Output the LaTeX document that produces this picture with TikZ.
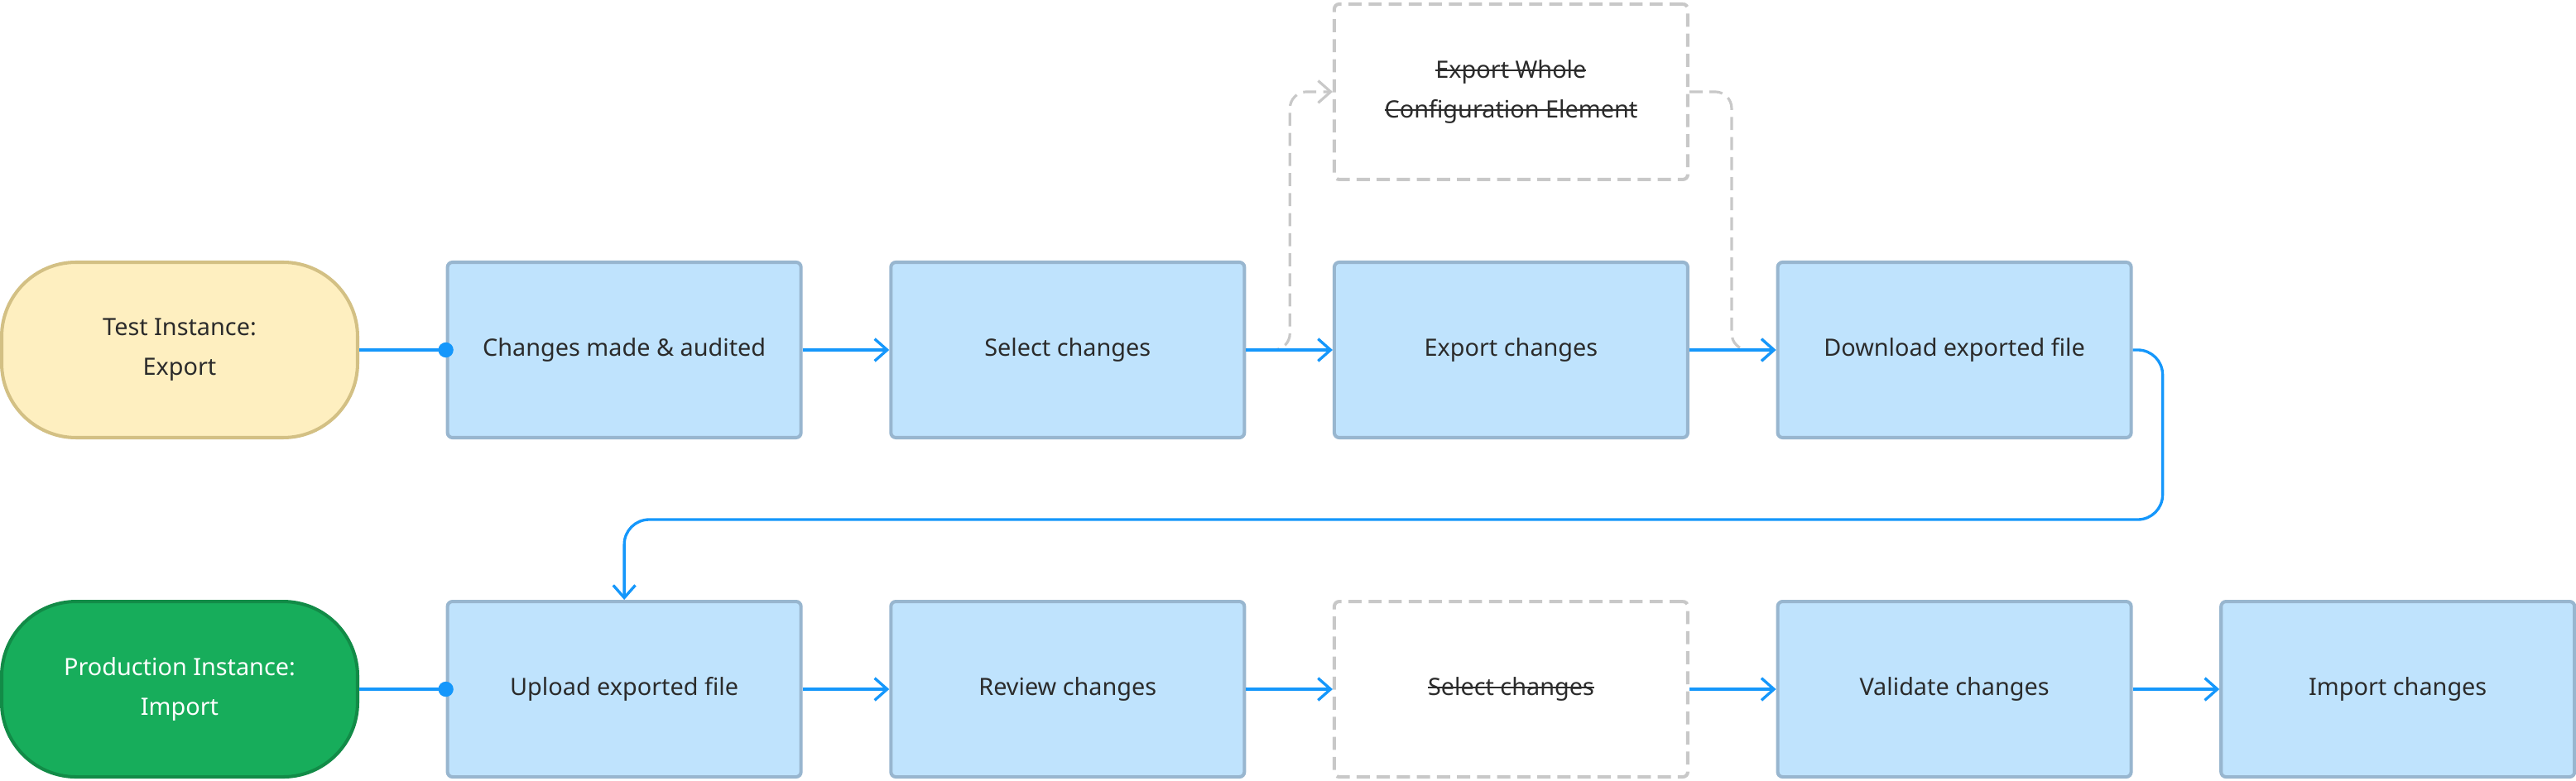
\documentclass[tikz,border=0pt]{standalone}
\usepackage{fontspec}
\setmainfont{Noto Sans}
\usepackage{tikz}
\usetikzlibrary{positioning,arrows.meta}
\definecolor{stepfill}{HTML}{BFE3FD}
\definecolor{stepline}{HTML}{98B6CF}
\definecolor{testfill}{HTML}{FEEFC0}
\definecolor{testline}{HTML}{D3C084}
\definecolor{prodfill}{HTML}{17AD5B}
\definecolor{prodline}{HTML}{128B47}
\definecolor{flowcolor}{HTML}{1597FB}
\definecolor{skipcolor}{HTML}{C8C8C8}
\definecolor{labelcolor}{HTML}{2B2B2B}
% struck-out label text
\newcommand\crossout[1]{{\setbox0=\hbox{#1}\rlap{\rule[0.3em]{\wd0}{0.55pt}}\box0}}

\tikzset{
  stepbox/.style={draw=stepline, fill=stepfill, line width=1.15pt, rounded corners=1.7pt,
    minimum width=4.27cm, minimum height=2.12cm, align=center, text=labelcolor,
    font=\fontsize{8.2pt}{13.7pt}\selectfont},
  skipbox/.style={stepbox, draw=skipcolor, fill=white, dash pattern=on 4.5pt off 2.4pt},
  instance/.style={stepbox, rounded corners=0.9cm, minimum width=4.30cm},
  flow/.style={draw=flowcolor, line width=0.95pt, -{Straight Barb[length=4.3pt,width=7.6pt]}},
  startflow/.style={draw=flowcolor, line width=0.95pt, -{Circle[length=5.2pt]}, shorten >=-2.6pt},
  skipflow/.style={draw=skipcolor, line width=0.9pt, dash pattern=on 4.5pt off 2.4pt,
    rounded corners=0.2cm, -{Straight Barb[length=4.3pt,width=7.6pt]}}
}

\begin{document}
\begin{tikzpicture}
  \useasboundingbox (0,0) rectangle (31.12,9.44);

  % Test instance row
  \node[instance, fill=testfill, draw=testline] (test) at (2.17,5.21) {Test Instance:\\Export};
  \node[stepbox, right=1.046cm of test] (made) {Changes made \& audited};
  \node[stepbox, right=1.046cm of made] (select) {Select changes};
  \node[stepbox, right=1.046cm of select] (export) {Export changes};
  \node[stepbox, right=1.046cm of export] (download) {Download exported file};
  \node[skipbox, above=0.96cm of export] (whole) {\crossout{Export Whole}\\\crossout{Configuration Element}};

  % Production instance row
  \node[instance, fill=prodfill, draw=prodline, text=white, below=1.94cm of test] (prod) {Production Instance:\\Import};
  \node[stepbox, right=1.046cm of prod] (upload) {Upload exported file};
  \node[stepbox, right=1.046cm of upload] (review) {Review changes};
  \node[skipbox, right=1.046cm of review] (reselect) {\crossout{Select changes}};
  \node[stepbox, right=1.046cm of reselect] (validate) {Validate changes};
  \node[stepbox, right=1.046cm of validate] (import) {Import changes};

  % Skipped path
  \draw[skipflow] (select.east) -- ++(0.53,0) |- (whole.west);
  \draw[skipflow] (whole.east) -- ++(0.51,0) |- (download.west);

  % Connectors
  \draw[startflow] (test) -- (made);
  \draw[flow] (made) -- (select);
  \draw[flow] (select) -- (export);
  \draw[flow] (export) -- (download);
  \draw[flow, rounded corners=0.3cm] (download.east) -- ++(0.36,0) |- ([yshift=0.97cm]upload.north) -- (upload.north);

  \draw[startflow] (prod) -- (upload);
  \draw[flow] (upload) -- (review);
  \draw[flow] (review) -- (reselect);
  \draw[flow] (reselect) -- (validate);
  \draw[flow] (validate) -- (import);
\end{tikzpicture}
\end{document}
